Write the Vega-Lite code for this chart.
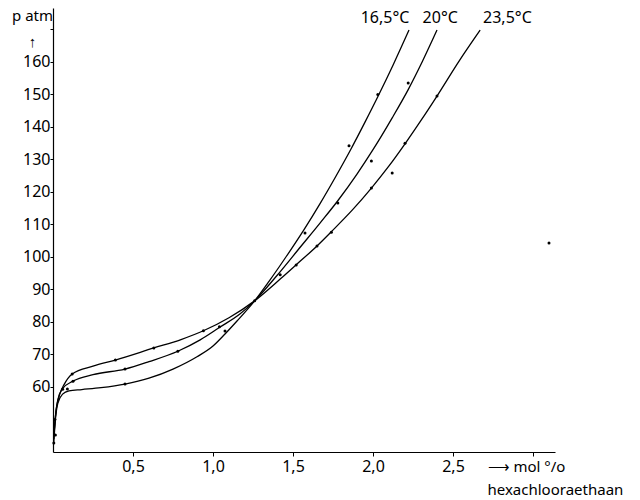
{
  "$schema": "https://vega.github.io/schema/vega-lite/v6.json",
  "width": 502,
  "height": 444,
  "autosize": {"type": "none"},
  "padding": {"left": 53, "top": 8, "right": 85, "bottom": 48},
  "config": {
    "view": {"stroke": null},
    "font": "Noto Sans",
    "axis": {"grid": false, "domainColor": "black", "tickColor": "black", "labelColor": "black", "titleColor": "black", "labelFontSize": 16, "labelFont": "Noto Sans", "titleFont": "Noto Sans", "titleFontWeight": "normal", "domainWidth": 1.2}
  },
  "datasets": {
    "curves": [
      {"T": "16,5", "x": 0.005, "p": 43}, {"T": "16,5", "x": 0.015, "p": 50}, {"T": "16,5", "x": 0.03, "p": 55}, {"T": "16,5", "x": 0.06, "p": 57.8}, {"T": "16,5", "x": 0.1, "p": 58.8}, {"T": "16,5", "x": 0.18, "p": 59.2}, {"T": "16,5", "x": 0.3, "p": 59.8}, {"T": "16,5", "x": 0.45, "p": 60.9}, {"T": "16,5", "x": 0.6, "p": 62.7}, {"T": "16,5", "x": 0.75, "p": 65.5}, {"T": "16,5", "x": 0.9, "p": 69.3}, {"T": "16,5", "x": 1.0, "p": 72.6}, {"T": "16,5", "x": 1.075, "p": 76.3}, {"T": "16,5", "x": 1.15, "p": 80.3}, {"T": "16,5", "x": 1.26, "p": 86.5}, {"T": "16,5", "x": 1.35, "p": 92.5}, {"T": "16,5", "x": 1.46, "p": 100.3}, {"T": "16,5", "x": 1.57, "p": 108.5}, {"T": "16,5", "x": 1.67, "p": 116.5}, {"T": "16,5", "x": 1.77, "p": 125}, {"T": "16,5", "x": 1.86, "p": 133}, {"T": "16,5", "x": 1.95, "p": 141.5}, {"T": "16,5", "x": 2.03, "p": 149.3}, {"T": "16,5", "x": 2.125, "p": 159}, {"T": "16,5", "x": 2.225, "p": 169.8},
      {"T": "20", "x": 0.005, "p": 44}, {"T": "20", "x": 0.015, "p": 51}, {"T": "20", "x": 0.03, "p": 56}, {"T": "20", "x": 0.06, "p": 59.5}, {"T": "20", "x": 0.125, "p": 61.8}, {"T": "20", "x": 0.25, "p": 63.8}, {"T": "20", "x": 0.45, "p": 65.5}, {"T": "20", "x": 0.6, "p": 67.8}, {"T": "20", "x": 0.78, "p": 71}, {"T": "20", "x": 0.92, "p": 74.5}, {"T": "20", "x": 1.04, "p": 78.3}, {"T": "20", "x": 1.17, "p": 82.5}, {"T": "20", "x": 1.26, "p": 86.5}, {"T": "20", "x": 1.4, "p": 94.3}, {"T": "20", "x": 1.55, "p": 103.3}, {"T": "20", "x": 1.67, "p": 110.5}, {"T": "20", "x": 1.78, "p": 117.3}, {"T": "20", "x": 1.9, "p": 125.5}, {"T": "20", "x": 2.0, "p": 133}, {"T": "20", "x": 2.12, "p": 142.8}, {"T": "20", "x": 2.22, "p": 151.5}, {"T": "20", "x": 2.31, "p": 160.3}, {"T": "20", "x": 2.4, "p": 169.8},
      {"T": "23,5", "x": 0.005, "p": 45}, {"T": "23,5", "x": 0.02, "p": 53}, {"T": "23,5", "x": 0.04, "p": 57.5}, {"T": "23,5", "x": 0.07, "p": 60.8}, {"T": "23,5", "x": 0.12, "p": 64}, {"T": "23,5", "x": 0.25, "p": 66.4}, {"T": "23,5", "x": 0.39, "p": 68.3}, {"T": "23,5", "x": 0.63, "p": 72}, {"T": "23,5", "x": 0.8, "p": 74.6}, {"T": "23,5", "x": 0.94, "p": 77.3}, {"T": "23,5", "x": 1.1, "p": 81.3}, {"T": "23,5", "x": 1.26, "p": 86.5}, {"T": "23,5", "x": 1.42, "p": 93.2}, {"T": "23,5", "x": 1.52, "p": 97.6}, {"T": "23,5", "x": 1.65, "p": 103.4}, {"T": "23,5", "x": 1.74, "p": 107.8}, {"T": "23,5", "x": 1.87, "p": 114.4}, {"T": "23,5", "x": 1.99, "p": 121.2}, {"T": "23,5", "x": 2.1, "p": 128}, {"T": "23,5", "x": 2.2, "p": 134.8}, {"T": "23,5", "x": 2.3, "p": 142}, {"T": "23,5", "x": 2.4, "p": 149.5}, {"T": "23,5", "x": 2.54, "p": 160.4}, {"T": "23,5", "x": 2.67, "p": 169.8}
    ],
    "dots": [
      {"x": 0.005, "p": 42.8}, {"x": 0.015, "p": 45.2}, {"x": 0.012, "p": 50},
      {"x": 0.09, "p": 59.4}, {"x": 0.45, "p": 60.9}, {"x": 1.075, "p": 77.2}, {"x": 1.575, "p": 107.4}, {"x": 1.85, "p": 134.2}, {"x": 2.03, "p": 150},
      {"x": 0.125, "p": 61.8}, {"x": 0.45, "p": 65.5}, {"x": 0.78, "p": 71}, {"x": 1.04, "p": 78.5}, {"x": 1.42, "p": 94.5}, {"x": 1.78, "p": 116.6}, {"x": 1.99, "p": 129.5}, {"x": 2.22, "p": 153.5},
      {"x": 0.06, "p": 59.3}, {"x": 0.12, "p": 64}, {"x": 0.39, "p": 68.3}, {"x": 0.63, "p": 72}, {"x": 0.94, "p": 77.3}, {"x": 1.26, "p": 86.5}, {"x": 1.52, "p": 97.5}, {"x": 1.65, "p": 103.4}, {"x": 1.74, "p": 107.6}, {"x": 1.99, "p": 121.2}, {"x": 2.2, "p": 135}, {"x": 2.4, "p": 149.5},
      {"x": 2.12, "p": 125.8}, {"x": 3.1, "p": 104.3}
    ],
    "labels": [
      {"x": 2.075, "p": 173.6, "label": "16,5°C"},
      {"x": 2.42, "p": 173.6, "label": "20°C"},
      {"x": 2.84, "p": 173.6, "label": "23,5°C"}
    ]
  },
  "layer": [
    {
      "data": {"name": "curves"},
      "mark": {"type": "line", "interpolate": "monotone", "color": "black", "strokeWidth": 1.3, "clip": false},
      "encoding": {
        "x": {"field": "x", "type": "quantitative",
          "scale": {"domain": [0, 3.1375], "nice": false, "zero": false},
          "axis": {"values": [0.5, 1, 1.5, 2, 2.5, 3], "labelExpr": "datum.value == 3 ? '' : replace(format(datum.value, '.1f'), '.', ',')", "tickSize": 4, "labelPadding": 2,
            "title": ["\u00a0\u27f6 mol \u00b0/o", "hexachlooraethaan"], "titleFontSize": 15, "titleAlign": "left", "titleAnchor": null, "titleX": 434, "titleY": 14, "titleBaseline": "middle", "titleLineHeight": 23}},
        "y": {"field": "p", "type": "quantitative",
          "scale": {"domain": [40, 176.6], "nice": false, "zero": false},
          "axis": {"values": [60, 70, 80, 90, 100, 110, 120, 130, 140, 150, 160, 170], "labelExpr": "datum.value == 170 ? '' : datum.label", "tickSize": 3, "labelPadding": 0,
            "title": ["p atm", "\u00a0\u00a0\u00a0\u2191"], "titleFontSize": 15, "titleAngle": 0, "titleAlign": "center", "titleAnchor": null, "titleX": -21, "titleY": 7, "titleBaseline": "middle", "titleLineHeight": 26}},
        "detail": {"field": "T"}
      }
    },
    {
      "data": {"name": "dots"},
      "mark": {"type": "point", "filled": true, "color": "black", "size": 9, "opacity": 1, "clip": false},
      "encoding": {
        "x": {"field": "x", "type": "quantitative"},
        "y": {"field": "p", "type": "quantitative"}
      }
    },
    {
      "data": {"name": "labels"},
      "mark": {"type": "text", "fontSize": 16, "color": "black", "align": "center", "baseline": "middle", "font": "Noto Sans"},
      "encoding": {
        "x": {"field": "x", "type": "quantitative"},
        "y": {"field": "p", "type": "quantitative"},
        "text": {"field": "label"}
      }
    }
  ]
}
